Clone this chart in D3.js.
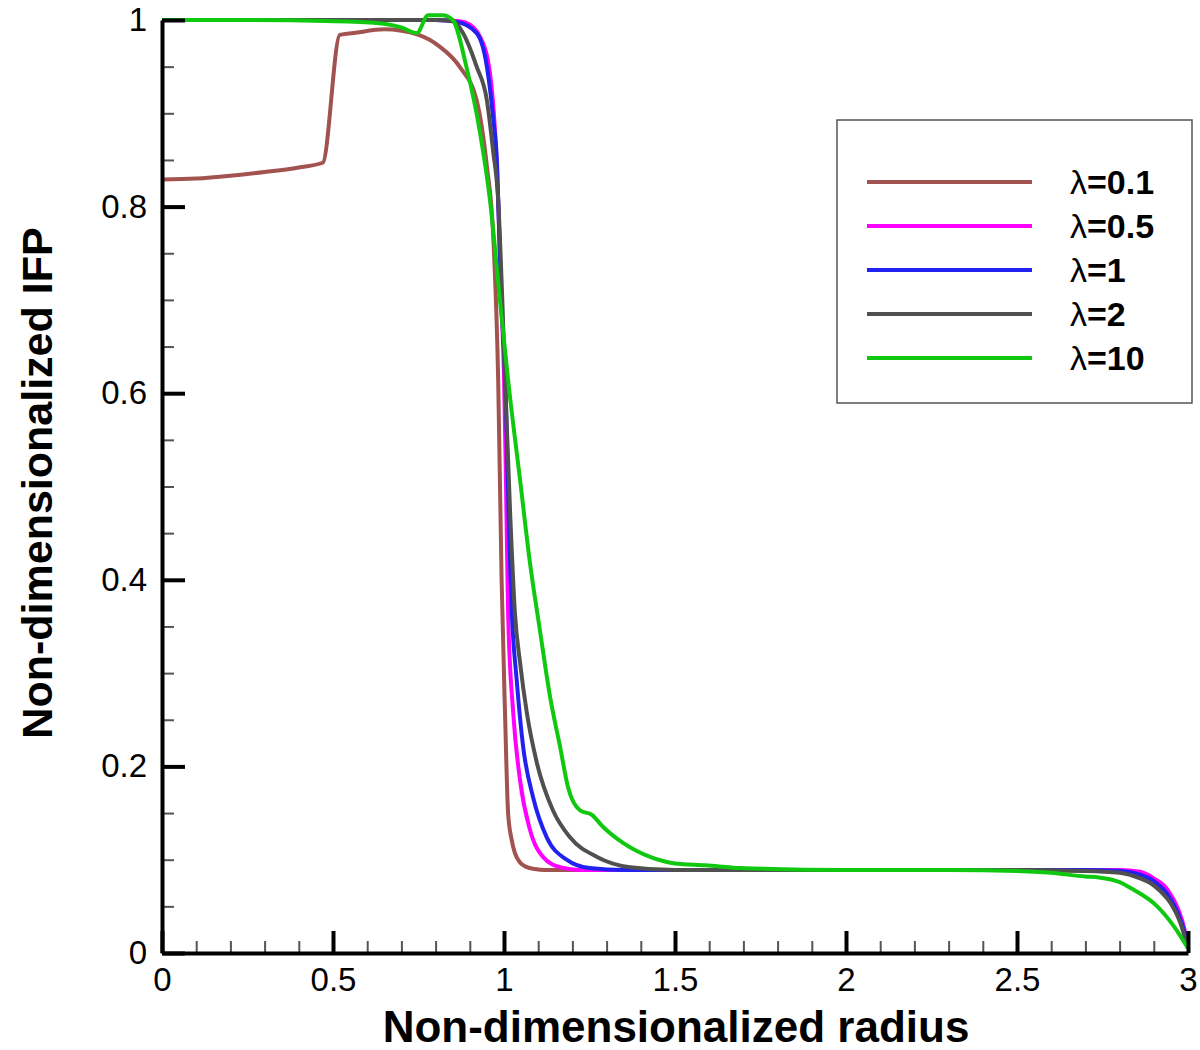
<!DOCTYPE html>
<html>
<head>
<meta charset="utf-8">
<script src="https://cdn.jsdelivr.net/npm/d3@7"></script>
<style>
  body { margin: 0; background: #fff; }
  svg { display: block; font-family: "Liberation Sans", Arial, sans-serif; }
</style>
</head>
<body>
<svg id="chart" width="1200" height="1050"></svg>
<script>
// radius / IFP pairs, one pair of arrays per lambda
const r_l01 = [0, 0.1, 0.2, 0.3, 0.4, 0.47, 0.52, 0.56, 0.65, 0.75, 0.81, 0.87, 0.92, 0.95, 0.968, 0.983, 0.993, 1.003, 1.012, 1.022, 1.032, 1.047, 1.067, 1.09, 1.12, 1.2, 1.5, 2.0, 2.5, 2.7, 2.8, 2.86, 2.9, 2.94, 2.97, 2.99, 3.0];
const v_l01 = [0.829, 0.830, 0.833, 0.837, 0.842, 0.847, 0.984, 0.986, 0.990, 0.984, 0.972, 0.95, 0.914, 0.843, 0.772, 0.614, 0.4, 0.257, 0.15, 0.122, 0.107, 0.097, 0.092, 0.09, 0.089, 0.089, 0.089, 0.089, 0.089, 0.088, 0.087, 0.083, 0.075, 0.06, 0.04, 0.02, 0.005];

const r_l05 = [0, 0.5, 0.8, 0.86, 0.89, 0.93, 0.959, 0.974, 0.983, 0.992, 1.0, 1.006, 1.012, 1.027, 1.047, 1.076, 1.114, 1.164, 1.22, 1.3, 1.5, 2.0, 2.5, 2.7, 2.8, 2.86, 2.9, 2.94, 2.97, 2.99, 3.0];
const v_l05 = [1, 1, 1, 0.999, 0.997, 0.982, 0.943, 0.879, 0.807, 0.7, 0.62, 0.5, 0.364, 0.257, 0.185, 0.132, 0.103, 0.092, 0.089, 0.089, 0.089, 0.089, 0.089, 0.089, 0.089, 0.087, 0.08, 0.068, 0.048, 0.025, 0.005];

const r_l1 = [0, 0.5, 0.8, 0.862, 0.92, 0.95, 0.968, 0.98, 0.99, 1.005, 1.015, 1.023, 1.037, 1.056, 1.085, 1.125, 1.183, 1.25, 1.35, 1.5, 2.0, 2.5, 2.7, 2.8, 2.86, 2.9, 2.94, 2.97, 2.99, 3.0];
const v_l1 = [1, 1, 1, 0.998, 0.986, 0.95, 0.896, 0.843, 0.72, 0.6, 0.45, 0.364, 0.293, 0.221, 0.167, 0.124, 0.1, 0.091, 0.089, 0.089, 0.089, 0.089, 0.089, 0.088, 0.084, 0.077, 0.063, 0.043, 0.022, 0.005];

const r_l2 = [0, 0.5, 0.8, 0.85, 0.88, 0.92, 0.95, 0.968, 0.983, 0.995, 1.003, 1.018, 1.032, 1.047, 1.067, 1.096, 1.143, 1.193, 1.272, 1.368, 1.5, 2.0, 2.5, 2.7, 2.8, 2.86, 2.89, 2.92, 2.95, 2.975, 2.99, 3.0];
const v_l2 = [1, 1, 1, 0.999, 0.986, 0.95, 0.914, 0.86, 0.807, 0.7, 0.614, 0.471, 0.364, 0.311, 0.257, 0.204, 0.153, 0.124, 0.103, 0.092, 0.089, 0.089, 0.089, 0.088, 0.086, 0.08, 0.075, 0.066, 0.053, 0.035, 0.018, 0.005];

const r_l10 = [0, 0.2, 0.48, 0.62, 0.7, 0.745, 0.778, 0.82, 0.85, 0.89, 0.93, 0.959, 0.988, 1.012, 1.047, 1.076, 1.105, 1.135, 1.164, 1.187, 1.222, 1.257, 1.29, 1.348, 1.427, 1.5, 1.59, 1.69, 2.0, 2.3, 2.5, 2.6, 2.7, 2.74, 2.8, 2.84, 2.91, 2.96, 3.0];
const v_l10 = [1, 1, 0.999, 0.997, 0.992, 0.986, 1.005, 1.005, 1.0, 0.95, 0.879, 0.807, 0.70, 0.614, 0.507, 0.418, 0.346, 0.274, 0.221, 0.178, 0.153, 0.148, 0.135, 0.118, 0.103, 0.096, 0.094, 0.091, 0.089, 0.089, 0.088, 0.086, 0.082, 0.081, 0.076, 0.068, 0.05, 0.028, 0.005];

const labels = ["\u03bb=0.1", "\u03bb=0.5", "\u03bb=1", "\u03bb=2", "\u03bb=10"];
const colors = ["#a2524f", "#ff00ff", "#2222f0", "#505050", "#10c810"];
const radii = [r_l01, r_l05, r_l1, r_l2, r_l10];
const ifp = [v_l01, v_l05, v_l1, v_l2, v_l10];

const xMajor = [0, 0.5, 1, 1.5, 2, 2.5, 3];
const yMajor = [0, 0.2, 0.4, 0.6, 0.8, 1];

let svg = d3.select("#chart");
let margin = {top: 20, left: 162, bottom: 97, right: 12};
let width = +svg.attr("width"), height = +svg.attr("height");

let x = d3.scaleLinear().domain([0, 3]).range([margin.left, width - margin.right]);
let y = d3.scaleLinear().domain([0, 1]).range([height - margin.bottom, margin.top]);

svg.append("rect").attr("width", width).attr("height", height).attr("fill", "#fff");

// curves
let line = d3.line()
    .x(d => x(d[0]))
    .y(d => y(d[1]))
    .curve(d3.curveMonotoneX);

radii.forEach(function (rs, i) {
    let pts = rs.map((r, k) => [r, ifp[i][k]]);
    svg.append("path")
        .datum(pts)
        .attr("fill", "none")
        .attr("stroke", colors[i])
        .attr("stroke-width", 4)
        .attr("stroke-linejoin", "round")
        .attr("d", line);
});

// minor ticks
let xMinor = d3.range(0, 31).map(d => d / 10).filter(d => Math.round(d * 10) % 5 !== 0);
let yMinor = d3.range(0, 21).map(d => d / 20).filter(d => Math.round(d * 20) % 4 !== 0);

svg.append("g")
    .attr("class", "minor")
    .attr("transform", `translate(0,${y(0)})`)
    .call(d3.axisBottom(x).tickValues(xMinor).tickFormat("").tickSize(-12).tickSizeOuter(0));

svg.append("g")
    .attr("class", "minor")
    .attr("transform", `translate(${x(0)},0)`)
    .call(d3.axisLeft(y).tickValues(yMinor).tickFormat("").tickSize(-12).tickSizeOuter(0));

svg.selectAll(".minor .domain").remove();
svg.selectAll(".minor line").attr("stroke", "#555").attr("stroke-width", 2);

// major axes
let xAxis = svg.append("g")
    .attr("transform", `translate(0,${y(0)})`)
    .call(d3.axisBottom(x).tickValues(xMajor).tickFormat(d3.format("")).tickSize(-22).tickSizeOuter(0).tickPadding(15));

let yAxis = svg.append("g")
    .attr("transform", `translate(${x(0)},0)`)
    .call(d3.axisLeft(y).tickValues(yMajor).tickFormat(d3.format("")).tickSize(-23).tickSizeOuter(0).tickPadding(15));

[xAxis, yAxis].forEach(function (g) {
    g.select(".domain").attr("stroke", "#000").attr("stroke-width", 4);
    g.selectAll(".tick line").attr("stroke", "#000").attr("stroke-width", 4);
    g.selectAll(".tick text")
        .attr("fill", "#000")
        .style("font-size", "33px")
        .style("font-family", "'Liberation Sans', Arial, sans-serif");
});

// axis titles
svg.append("text")
    .attr("x", (x(0) + x(3)) / 2 + 1)
    .attr("y", 1042)
    .attr("text-anchor", "middle")
    .style("font-size", "44px")
    .style("font-weight", "bold")
    .text("Non-dimensionalized radius");

svg.append("text")
    .attr("transform", "translate(52,483) rotate(-90)")
    .attr("text-anchor", "middle")
    .style("font-size", "43px")
    .style("font-weight", "bold")
    .text("Non-dimensionalized IFP");

// legend
let legend = svg.append("g");
legend.append("rect")
    .attr("x", 837).attr("y", 120)
    .attr("width", 355).attr("height", 283)
    .attr("fill", "#fff")
    .attr("stroke", "#555")
    .attr("stroke-width", 1.5);

labels.forEach(function (lab, i) {
    let ly = 182 + i * 44;
    legend.append("line")
        .attr("x1", 867).attr("x2", 1032)
        .attr("y1", ly).attr("y2", ly)
        .attr("stroke", colors[i])
        .attr("stroke-width", 4);
    let t = legend.append("text")
        .attr("x", 1070)
        .attr("y", ly + 12)
        .style("font-size", "34px");
    t.append("tspan").style("font-weight", "normal").text(lab.substring(0, 1));
    t.append("tspan").style("font-weight", "bold").text(lab.substring(1));
});
</script>
</body>
</html>
